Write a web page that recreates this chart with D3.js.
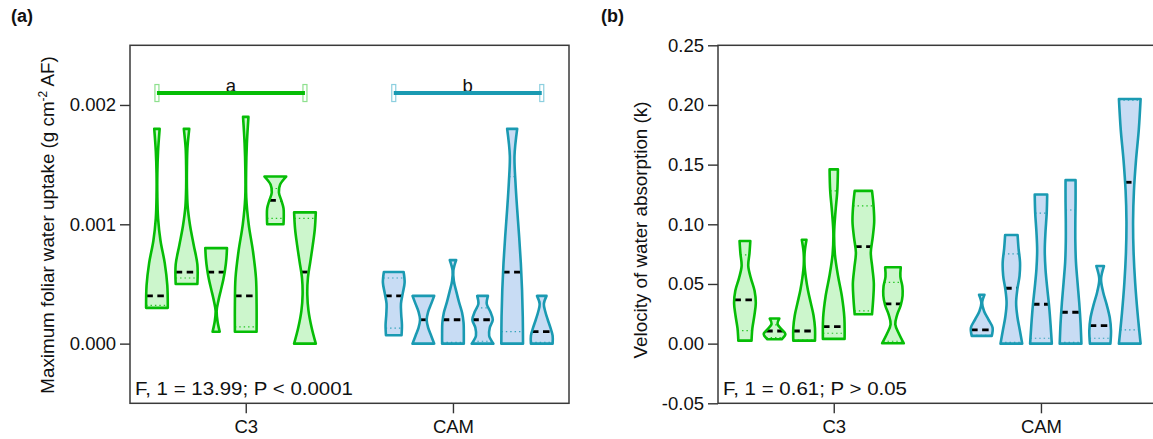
<!DOCTYPE html>
<html><head><meta charset="utf-8">
<script src="https://cdn.jsdelivr.net/npm/d3@7"></script>
<style>
body{margin:0;background:#fff;}
text{font-family:Arial,"Liberation Sans",sans-serif;fill:#111;}
</style></head><body>
<svg id="chart" width="1153" height="439"></svg>
<script>
// ---------- categories / positions ----------
const groups = ["C3", "CAM"];
const groupTickPos = [4, 11];
const violinPos = [1, 2, 3, 4, 5, 6, 9, 10, 11, 12, 13, 14];
const violinGroup = ["C3","C3","C3","C3","C3","C3","CAM","CAM","CAM","CAM","CAM","CAM"];

// ---------- panel (a): maximum foliar water uptake ----------
const uptakeTicks = [0, 0.001, 0.002];
const uptakeMin    = [0.0003, 0.0005, 0.0001, 0.0001, 0.0010, 0.0000, 0.00007, 0.0000, 0.0000, 0.0000, 0.0000, 0.0000];
const uptakeMax    = [0.0018, 0.0018, 0.0008, 0.0019, 0.0014, 0.0011, 0.0006, 0.0004, 0.0007, 0.0004, 0.0018, 0.0004];
const uptakeMedian = [0.0004, 0.0006, 0.0006, 0.0004, 0.0012, 0.0006, 0.0004, 0.0002, 0.0002, 0.0002, 0.0006, 0.0001];
const uptakeQ1     = [0.00032, 0.00055, 0.00025, 0.00014, 0.00105, 0.0000, 0.00013, 0.0000, 0.00001, 0.00002, 0.0001, 0.00001];
const uptakeQ3     = [0.0011, 0.0012, 0.0008, 0.0013, 0.0013, 0.00105, 0.00055, 0.0004, 0.00065, 0.0003, 0.0014, 0.00035];
// relative violin widths, from the minimum (first) to the maximum (last)
const uptakeDensity = [
  [1.0, 0.96, 0.75, 0.4, 0.2, 0.13, 0.12, 0.2, 0.33],
  [1.0, 1.0, 0.7, 0.4, 0.2, 0.13, 0.12, 0.18, 0.33],
  [0.4, 0.22, 0.15, 0.3, 0.5, 0.7, 0.85, 0.95, 1.0],
  [1.0, 1.0, 0.95, 0.7, 0.35, 0.15, 0.12, 0.2, 0.33],
  [0.78, 0.8, 0.78, 0.6, 0.4, 0.5, 1.0],
  [1.0, 0.65, 0.4, 0.3, 0.35, 0.55, 0.75, 0.92, 1.0],
  [0.75, 0.78, 0.72, 0.7, 0.85, 1.0, 0.92],
  [1.0, 0.75, 0.5, 0.38, 0.5, 0.75, 1.0],
  [1.0, 1.0, 0.98, 0.85, 0.6, 0.38, 0.18, 0.1, 0.37],
  [1.0, 0.65, 0.7, 0.95, 0.75, 0.45, 0.55],
  [1.0, 0.98, 0.92, 0.82, 0.68, 0.52, 0.38, 0.3, 0.52],
  [1.0, 1.0, 0.82, 0.6, 0.4, 0.28, 0.5]
];
const sigStart = [1, 9];
const sigEnd = [6, 14];
const sigLetters = ["a", "b"];
const sigLevel = 0.0021;

// ---------- panel (b): velocity of water absorption ----------
const velTicks = [-0.05, 0, 0.05, 0.10, 0.15, 0.20, 0.25];
const velMin    = [0.0025, 0.0037, 0.0025, 0.004, 0.0246, 0.0003, 0.0065, 0, 0, 0, 0, 0];
const velMax    = [0.086, 0.021, 0.087, 0.146, 0.128, 0.064, 0.041, 0.091, 0.125, 0.137, 0.065, 0.205];
const velMedian = [0.0366, 0.0106, 0.0106, 0.0143, 0.0813, 0.0333, 0.0115, 0.0464, 0.033, 0.0263, 0.0151, 0.1352];
const velQ1     = [0.0109, 0.005, 0.003, 0.0087, 0.0274, 0.002, 0.007, 0.001, 0.0045, 0.001, 0.0045, 0.0115];
const velQ3     = [0.0743, 0.0157, 0.07, 0.128, 0.1154, 0.0514, 0.0352, 0.0752, 0.1093, 0.112, 0.056, 0.204];
const velDensity = [
  [0.65, 0.72, 0.88, 1.0, 0.9, 0.6, 0.38, 0.48, 0.55],
  [0.7, 1.0, 0.65, 0.35, 0.5],
  [1.0, 1.0, 0.88, 0.65, 0.42, 0.25, 0.13, 0.15, 0.3],
  [1.0, 0.98, 0.78, 0.45, 0.2, 0.14, 0.25, 0.4, 0.45],
  [0.82, 0.92, 0.97, 0.85, 0.72, 0.88, 1.0, 0.95, 0.82],
  [1.0, 0.6, 0.3, 0.45, 0.75, 0.9, 0.88, 0.72, 0.75],
  [0.93, 1.0, 0.65, 0.3, 0.12, 0.33],
  [1.0, 0.8, 0.6, 0.5, 0.6, 0.78, 0.82, 0.7, 0.62],
  [1.0, 0.9, 0.78, 0.62, 0.48, 0.42, 0.48, 0.58, 0.62],
  [1.0, 0.93, 0.82, 0.68, 0.55, 0.5, 0.5, 0.52, 0.52],
  [0.95, 1.0, 0.9, 0.65, 0.35, 0.18, 0.42],
  [1.0, 0.75, 0.55, 0.42, 0.38, 0.45, 0.62, 0.85, 1.0]
];

// ---------- styles ----------
const groupStroke = {C3: "#06bd06", CAM: "#1a9ab2"};
const groupFill   = {C3: "#ccf6cc", CAM: "#c8dcf4"};
const capStroke   = {C3: "#8ee08e", CAM: "#8ccfdf"};

const svg = d3.select("#chart");
const plotTop = 45.3, plotBottom = 403.3;
const outerHalf = 12.15, strokeW = 2.6;

function hw(w) { return Math.max(0.4, w * outerHalf - strokeW / 2); }

function widthAt(v, lo, hi, dens) {
  const n = dens.length;
  if (hi === lo) return dens[0];
  let t = (v - lo) / (hi - lo) * (n - 1);
  t = Math.max(0, Math.min(n - 1, t));
  const k = Math.min(n - 2, Math.floor(t));
  const f = t - k;
  return dens[k] * (1 - f) + dens[k + 1] * f;
}

function drawPanel(cfg) {
  const g = svg.append("g");
  const x = d3.scaleLinear().domain([0.09, 14.92]).range([cfg.left, cfg.left + 439]);
  const y = d3.scaleLinear().domain(cfg.yDomain).range([plotBottom, plotTop]);

  // axes
  const ay = g.append("g").attr("transform", `translate(${cfg.left},0)`)
    .call(d3.axisLeft(y).tickValues(cfg.ticks).tickFormat(cfg.fmt).tickSize(10).tickPadding(4));
  const ax = g.append("g").attr("transform", `translate(0,${plotBottom})`)
    .call(d3.axisBottom(x).tickValues(groupTickPos).tickFormat((d, i) => groups[i]).tickSize(10).tickPadding(7));
  [ay, ax].forEach(a => {
    a.select(".domain").remove();
    a.selectAll(".tick line").attr("stroke", "#333").attr("stroke-width", 1.4);
    a.selectAll(".tick text").attr("font-size", 18.5).attr("fill", "#111")
      .attr("font-family", "Arial, 'Liberation Sans', sans-serif");
  });

  // frame
  g.append("rect").attr("x", cfg.left).attr("y", plotTop)
    .attr("width", 439).attr("height", plotBottom - plotTop)
    .attr("fill", "none").attr("stroke", "#3a3a3a").attr("stroke-width", 1.5);

  // violins
  violinPos.forEach((p, i) => {
    const grp = violinGroup[i];
    const cx = x(p);
    const lo = cfg.mins[i], hi = cfg.maxs[i], dens = cfg.dens[i];
    const n = dens.length;
    const pts = dens.map((w, k) => ({v: lo + (hi - lo) * k / (n - 1), w})).reverse();
    const area = d3.area().curve(d3.curveCatmullRom.alpha(0.5))
      .y(d => y(d.v)).x0(d => cx - hw(d.w)).x1(d => cx + hw(d.w));
    g.append("path").attr("d", area(pts)).attr("fill", groupFill[grp]).attr("stroke", "none");
    // quartiles
    [cfg.q1[i], cfg.q3[i]].forEach(q => {
      const w = hw(widthAt(q, lo, hi, dens));
      g.append("line").attr("x1", cx - w).attr("x2", cx + w)
        .attr("y1", y(q)).attr("y2", y(q))
        .attr("stroke", groupStroke[grp]).attr("stroke-opacity", 0.85)
        .attr("stroke-width", 1.2).attr("stroke-dasharray", "1.4,3");
    });
    // median
    const mw = hw(widthAt(cfg.med[i], lo, hi, dens));
    g.append("line").attr("x1", cx - mw).attr("x2", cx + mw)
      .attr("y1", y(cfg.med[i])).attr("y2", y(cfg.med[i]))
      .attr("stroke", "#000").attr("stroke-width", 2.8).attr("stroke-dasharray", "6.5,4.5");
    g.append("path").attr("d", area(pts)).attr("fill", "none")
      .attr("stroke", groupStroke[grp]).attr("stroke-width", strokeW).attr("stroke-linejoin", "round");
  });

  // significance bars
  if (cfg.sig) {
    sigStart.forEach((s, j) => {
      const grp = groups[j];
      const yy = y(sigLevel);
      g.append("text").attr("x", (x(s) + x(sigEnd[j])) / 2).attr("y", yy - 1.5)
        .attr("text-anchor", "middle").attr("font-size", 18.5).text(sigLetters[j]);
      [s, sigEnd[j]].forEach(e => {
        g.append("rect").attr("x", x(e) - 2).attr("y", yy - 8.5).attr("width", 4).attr("height", 17)
          .attr("fill", "#fff").attr("stroke", capStroke[grp]).attr("stroke-width", 1.2);
      });
      g.append("line").attr("x1", x(s)).attr("x2", x(sigEnd[j])).attr("y1", yy).attr("y2", yy)
        .attr("stroke", groupStroke[grp]).attr("stroke-width", 4);
    });
  }

  // stat text
  g.append("text").attr("x", cfg.left + 5).attr("y", 395).attr("font-size", 18.5)
    .attr("textLength", cfg.statLen).attr("lengthAdjust", "spacingAndGlyphs").text(cfg.stat);

  // y label
  const yl = g.append("text").attr("transform", `translate(${cfg.labelX},${cfg.labelY}) rotate(-90)`)
    .attr("text-anchor", "middle").attr("font-size", 18.8);
  cfg.labelParts.forEach(part => {
    const t = yl.append("tspan").text(part.t);
    if (part.sup) t.attr("baseline-shift", "super").attr("font-size", 12);
  });

  // panel letter
  svg.append("text").attr("x", cfg.letterX).attr("y", 22).attr("font-size", 18)
    .attr("font-weight", "bold").text(cfg.letter);
}

drawPanel({
  left: 130, yDomain: [-0.0005, 0.0025], ticks: uptakeTicks, fmt: d => d.toFixed(3),
  mins: uptakeMin, maxs: uptakeMax, med: uptakeMedian, q1: uptakeQ1, q3: uptakeQ3, dens: uptakeDensity,
  sig: true, stat: "F, 1 = 13.99; P < 0.0001", statLen: 218, labelX: 54, labelY: 225,
  labelParts: [{t: "Maximum foliar water uptake (g cm"}, {t: "-2", sup: true}, {t: " AF)"}],
  letter: "(a)", letterX: 11
});
drawPanel({
  left: 718, yDomain: [-0.05, 0.25], ticks: velTicks, fmt: d => d.toFixed(2),
  mins: velMin, maxs: velMax, med: velMedian, q1: velQ1, q3: velQ3, dens: velDensity,
  sig: false, stat: "F, 1 = 0.61; P > 0.05", statLen: 184, labelX: 647, labelY: 230,
  labelParts: [{t: "Velocity of water absorption (k)"}],
  letter: "(b)", letterX: 601
});
</script>
</body></html>
